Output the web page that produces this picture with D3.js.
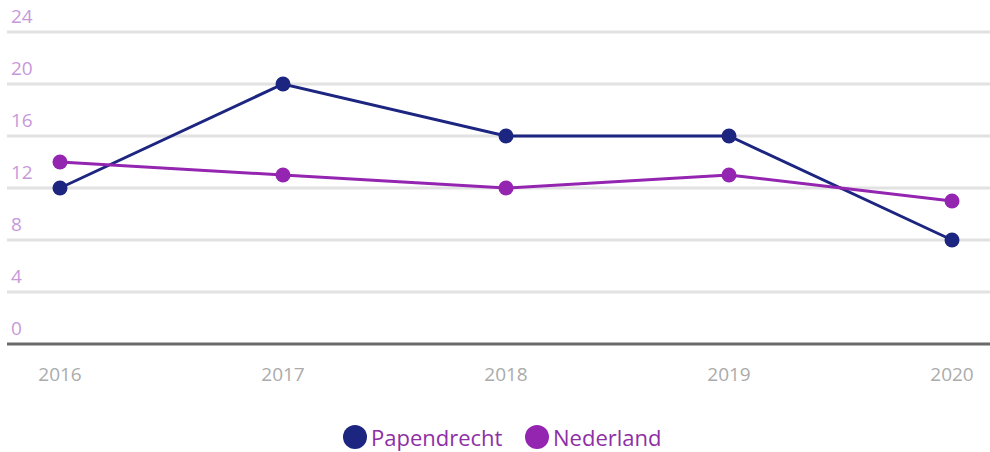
<!DOCTYPE html>
<html>
<head>
<meta charset="utf-8">
<script src="https://cdn.jsdelivr.net/npm/d3@7"></script>
<style>
  body { margin: 0; background: #fff; font-family: "Open Sans", sans-serif; }
</style>
</head>
<body>
<div id="container"></div>
<script>
// Data
const years = ['2016', '2017', '2018', '2019', '2020'];
const papendrecht = [12, 20, 16, 16, 8];
const nederland = [14, 13, 12, 13, 11];
const yTicks = [0, 4, 8, 12, 16, 20, 24];
const seriesNames = ['Papendrecht', 'Nederland'];
const seriesColors = ['#1c2580', '#9425b0'];

const width = 990;
const height = 452;

const svg = d3.select('#container').append('svg')
    .attr('width', width)
    .attr('height', height);

// Scales
const xScale = d3.scalePoint()
    .domain(years)
    .range([60, 952]);

const yScale = d3.scaleLinear()
    .domain([0, 24])
    .range([344, 32]);

// Gridlines
svg.append('g')
    .selectAll('line')
    .data(yTicks.filter(d => d > 0))
    .enter()
    .append('line')
    .attr('x1', 7)
    .attr('x2', 990)
    .attr('y1', d => yScale(d))
    .attr('y2', d => yScale(d))
    .attr('stroke', '#e2e2e2')
    .attr('stroke-width', 3);

// Y labels sit above the lines
svg.append('g')
    .selectAll('text')
    .data(yTicks)
    .enter()
    .append('text')
    .attr('x', 11)
    .attr('y', d => yScale(d) - 9)
    .attr('fill', '#c799db')
    .attr('font-size', 19)
    .text(d => d);

// Baseline
svg.append('line')
    .attr('x1', 7)
    .attr('x2', 990)
    .attr('y1', yScale(0))
    .attr('y2', yScale(0))
    .attr('stroke', '#6a6a6a')
    .attr('stroke-width', 3);

// X labels
svg.append('g')
    .selectAll('text')
    .data(years)
    .enter()
    .append('text')
    .attr('x', d => xScale(d))
    .attr('y', 381)
    .attr('text-anchor', 'middle')
    .attr('fill', '#ababab')
    .attr('font-size', 19)
    .text(d => d);

// Lines + dots
const line = d3.line()
    .x((d, i) => xScale(years[i]))
    .y(d => yScale(d));

[papendrecht, nederland].forEach((vals, s) => {
    svg.append('path')
        .datum(vals)
        .attr('d', line)
        .attr('fill', 'none')
        .attr('stroke', seriesColors[s])
        .attr('stroke-width', 3);

    svg.append('g')
        .selectAll('circle')
        .data(vals)
        .enter()
        .append('circle')
        .attr('cx', (d, i) => xScale(years[i]))
        .attr('cy', d => yScale(d))
        .attr('r', 7.5)
        .attr('fill', seriesColors[s]);
});

// Legend
const legend = svg.append('g');
const legendX = [355, 537];
seriesNames.forEach((name, i) => {
    legend.append('circle')
        .attr('cx', legendX[i])
        .attr('cy', 437)
        .attr('r', 12)
        .attr('fill', seriesColors[i]);
    legend.append('text')
        .attr('x', legendX[i] + 16)
        .attr('y', 446)
        .attr('fill', '#8e2fa6')
        .attr('font-size', 22)
        .text(name);
});
</script>
</body>
</html>
